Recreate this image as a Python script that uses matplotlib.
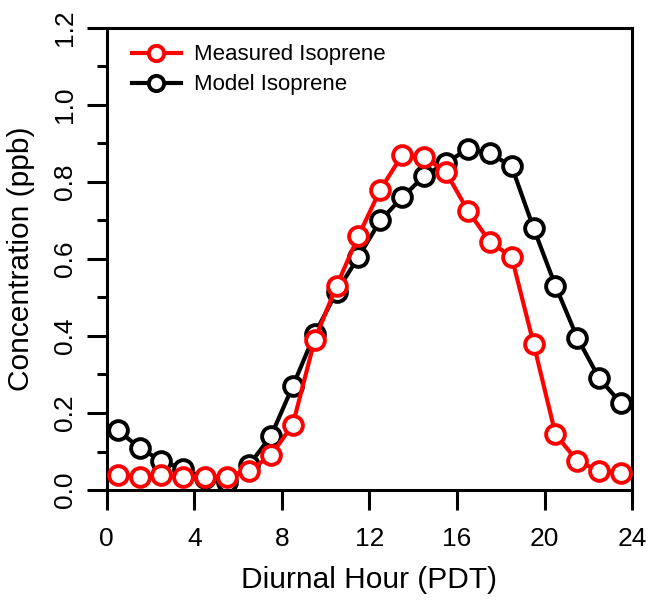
import matplotlib.pyplot as plt
from matplotlib.ticker import MultipleLocator

plt.rcParams['font.family'] = ['Liberation Sans', 'DejaVu Sans']

# diurnal hour bins (mid-hour)
hours = [0.5, 1.5, 2.5, 3.5, 4.5, 5.5, 6.5, 7.5, 8.5, 9.5, 10.5, 11.5,
         12.5, 13.5, 14.5, 15.5, 16.5, 17.5, 18.5, 19.5, 20.5, 21.5, 22.5, 23.5]

measured = [0.040, 0.035, 0.040, 0.035, 0.035, 0.035, 0.050, 0.090, 0.170, 0.390, 0.530, 0.660,
            0.780, 0.870, 0.865, 0.825, 0.725, 0.645, 0.605, 0.380, 0.145, 0.075, 0.050, 0.045]

model = [0.155, 0.110, 0.075, 0.055, 0.030, 0.020, 0.065, 0.140, 0.270, 0.405, 0.515, 0.605,
         0.700, 0.760, 0.815, 0.850, 0.885, 0.875, 0.840, 0.680, 0.530, 0.395, 0.290, 0.225]

x_ticks = [0, 4, 8, 12, 16, 20, 24]
y_ticks = [0.0, 0.2, 0.4, 0.6, 0.8, 1.0, 1.2]

fig = plt.figure(figsize=(6.55, 6.05), dpi=100)
ax = fig.add_axes([0.163, 0.19, 0.802, 0.764])

style = dict(lw=3, marker='o', ms=13.5, mfc='white', mew=2.8)
ax.plot(hours, measured, color='red', mec='red', label='Measured Isoprene', zorder=3, **style)
ax.plot(hours, model, color='black', mec='black', label='Model Isoprene', zorder=2, **style)

ax.set_xlim(0, 24)
ax.set_ylim(0, 1.2)
ax.set_xticks(x_ticks)
ax.set_yticks(y_ticks)
ax.set_yticklabels(['%.1f' % v for v in y_ticks], rotation=90, va='center')
ax.yaxis.set_minor_locator(MultipleLocator(0.1))

ax.tick_params(axis='x', which='major', length=14.5, width=2.2, labelsize=19, pad=12)
ax.tick_params(axis='y', which='major', length=14.5, width=2.2, labelsize=19, pad=7)
ax.tick_params(axis='y', which='minor', length=7.5, width=2.2)
for s in ax.spines.values():
    s.set_linewidth(2.2)

ax.set_xlabel('Diurnal Hour (PDT)', fontsize=21.5, labelpad=11)
ax.set_ylabel('Concentration (ppb)', fontsize=21.5, labelpad=13)

leg = ax.legend(loc='upper left', bbox_to_anchor=(0.048, 0.964), frameon=False, fontsize=16,
                handlelength=2.2, handletextpad=0.6, labelspacing=0.4,
                borderaxespad=0, borderpad=0)
for h in leg.legend_handles:
    h.set_markersize(11)

fig.savefig('out.png', dpi=100)
